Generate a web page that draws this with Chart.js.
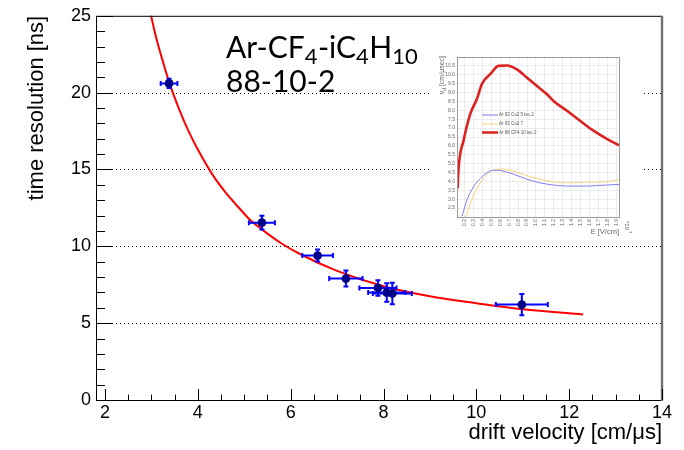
<!DOCTYPE html>
<html><head><meta charset="utf-8">
<script src="https://cdn.jsdelivr.net/npm/chart.js@4/dist/chart.umd.min.js"></script>
<style>
html,body{margin:0;padding:0;background:#fff;}
#wrap{position:relative;width:684px;height:450px;background:#fff;}
#main{position:absolute;left:0;top:0;}
#inset{position:absolute;left:432px;top:38px;background:#fff;}
</style></head><body>
<div id="wrap">
<canvas id="main" width="684" height="450"></canvas>
<canvas id="inset" width="212" height="206"></canvas>
</div>
<script>
// ---- main chart data ----
const driftVelocity      = [3.38, 5.38, 6.58, 7.19, 7.88, 8.07, 8.19, 10.98];
const driftVelocityErr   = [0.18, 0.28, 0.33, 0.36, 0.40, 0.40, 0.42, 0.56];
const timeResolution     = [20.6, 11.54, 9.40, 7.90, 7.29, 6.99, 6.93, 6.21];
const timeResolutionErr  = [0.30, 0.45, 0.39, 0.52, 0.51, 0.60, 0.70, 0.69];
const fitVelocity   = [2.90, 2.97, 3.10, 3.24, 3.38, 3.60, 3.80, 4.00, 4.33, 4.60, 4.80, 5.10, 5.38, 5.77, 6.20, 7.00, 8.00, 9.00, 10.0, 11.0, 12.3];
const fitResolution = [26.2, 25.3, 23.6, 22.1, 20.7, 18.9, 17.5, 16.3, 14.6, 13.5, 12.8, 11.8, 11.1, 10.25, 9.5, 8.4, 7.4, 6.75, 6.3, 5.9, 5.57];
const xTickValues = [2, 4, 6, 8, 10, 12, 14];
const yTickValues = [0, 5, 10, 15, 20, 25];
const gasLabel = ['Ar-CF', '4', '-iC', '4', 'H', '10'];
const mixLabel = '88-10-2';

// ---- inset data (E in kV/cm, vd in cm/us) ----
const insetFieldBlue = [0.171, 0.227, 0.30, 0.375, 0.45, 0.527, 0.617, 0.747, 0.896, 1.045, 1.193, 1.34, 1.566, 1.789, 1.93];
const insetVelBlue   = [2.03, 2.96, 3.70, 4.17, 4.48, 4.63, 4.60, 4.41, 4.13, 3.92, 3.80, 3.74, 3.74, 3.80, 3.83];
const insetFieldYellow = [0.208, 0.264, 0.338, 0.412, 0.487, 0.58, 0.673, 0.822, 1.008, 1.193, 1.38, 1.566, 1.789, 1.93];
const insetVelYellow   = [1.94, 2.77, 3.61, 4.17, 4.54, 4.69, 4.67, 4.45, 4.17, 3.98, 3.92, 3.96, 3.98, 4.11];
const insetFieldRed = [0.122, 0.131, 0.189, 0.264, 0.338, 0.394, 0.487, 0.58, 0.673, 0.785, 0.896, 1.008, 1.12, 1.193, 1.343, 1.49, 1.64, 1.789, 1.93];
const insetVelRed   = [3.61, 4.63, 6.31, 7.80, 8.64, 9.48, 10.03, 10.5, 10.52, 10.31, 9.85, 9.38, 8.92, 8.54, 7.99, 7.43, 6.87, 6.41, 6.03];
const insetXTicks = [0.2,0.3,0.4,0.5,0.6,0.7,0.8,0.9,1,1.1,1.2,1.3,1.4,1.5,1.6,1.7,1.8,1.9];
const insetYTicks = [2.5,3,3.5,4,4.5,5,5.5,6,6.5,7,7.5,8,8.5,9,9.5,10,10.5];
const insetLegend = ['Ar 93 Co2 5 iso 2', 'Ar 93 Co2 7', 'Ar 88 CF4 10 iso 2'];
const insetColors = ['#7f7ff2', '#f2d27a', '#dd2020'];

Chart.defaults.font.family = "'Liberation Sans', Arial, sans-serif";
Chart.defaults.color = '#000';

const pts = (xs, ys) => xs.map((v, i) => ({x: v, y: ys[i]}));

const mainDecor = {
  id: 'mainDecor',
  beforeDatasetsDraw(chart) {
    const {ctx, chartArea: a, scales: {y}} = chart;
    ctx.save();
    ctx.strokeStyle = '#000'; ctx.lineWidth = 1; ctx.setLineDash([1, 3]);
    yTickValues.filter(v => v > y.min && v < y.max).forEach(v => {
      const py = Math.round(y.getPixelForValue(v)) + 0.5;
      ctx.beginPath(); ctx.moveTo(a.left, py); ctx.lineTo(a.right, py); ctx.stroke();
    });
    ctx.restore();
  },
  afterDatasetDraw(chart, args) {
    if (args.index !== 0) return;
    const {ctx, scales: {x, y}} = chart;
    ctx.save();
    ctx.strokeStyle = '#0000ff'; ctx.lineWidth = 2;
    driftVelocity.forEach((v, i) => {
      const px = x.getPixelForValue(v), py = y.getPixelForValue(timeResolution[i]);
      const x1 = x.getPixelForValue(v - driftVelocityErr[i]), x2 = x.getPixelForValue(v + driftVelocityErr[i]);
      const y1 = y.getPixelForValue(timeResolution[i] - timeResolutionErr[i]), y2 = y.getPixelForValue(timeResolution[i] + timeResolutionErr[i]);
      ctx.beginPath();
      ctx.moveTo(x1, py); ctx.lineTo(x2, py);
      ctx.moveTo(px, y1); ctx.lineTo(px, y2);
      ctx.moveTo(x1, py - 2.5); ctx.lineTo(x1, py + 2.5);
      ctx.moveTo(x2, py - 2.5); ctx.lineTo(x2, py + 2.5);
      ctx.moveTo(px - 2.5, y1); ctx.lineTo(px + 2.5, y1);
      ctx.moveTo(px - 2.5, y2); ctx.lineTo(px + 2.5, y2);
      ctx.stroke();
    });
    ctx.restore();
  },
  afterDraw(chart) {
    const {ctx, chartArea: a, scales: {x, y}} = chart;
    ctx.save();
    // frame
    ctx.strokeStyle = '#000'; ctx.lineWidth = 1;
    ctx.beginPath();
    ctx.moveTo(a.left + 0.5, a.top + 0.5); ctx.lineTo(a.left + 0.5, a.bottom + 0.5);
    ctx.lineTo(a.right, a.bottom + 0.5);
    ctx.moveTo(a.left, a.top + 0.5); ctx.lineTo(a.right, a.top + 0.5);
    ctx.stroke();
    ctx.strokeStyle = '#707070'; ctx.lineWidth = 2.4;
    ctx.beginPath(); ctx.moveTo(a.right, a.top); ctx.lineTo(a.right, a.bottom + 1); ctx.stroke();
    // ticks
    ctx.strokeStyle = '#000'; ctx.lineWidth = 1;
    ctx.beginPath();
    for (let v = xTickValues[0]; v <= xTickValues[xTickValues.length - 1] + 1e-9; v += 0.5) {
      const px = Math.round(x.getPixelForValue(v)) + 0.5;
      const major = Math.abs(v - Math.round(v / 2) * 2) < 1e-6;
      const len = major ? 11 : 5.5;
      ctx.moveTo(px, a.bottom); ctx.lineTo(px, a.bottom - len);
    }
    for (let v = 0; v <= 25; v += 1) {
      const py = Math.round(y.getPixelForValue(v)) + 0.5;
      const len = v % 5 === 0 ? 17 : 9;
      ctx.moveTo(a.left, py); ctx.lineTo(a.left + len, py);
    }
    ctx.stroke();
    // annotation text
    ctx.fillStyle = '#000';
    ctx.textBaseline = 'alphabetic';
    let cx = 226;
    const big = "30px Lato", small = "22px Lato";
    gasLabel.forEach((t, i) => {
      const sub = i % 2 === 1;
      ctx.font = sub ? small : big;
      ctx.fillText(t, cx, sub ? 64 : 58);
      cx += ctx.measureText(t).width + (sub ? 0.5 : 0);
    });
    ctx.font = big;
    ctx.fillText(mixLabel, 226, 92);
    ctx.restore();
  }
};

new Chart(document.getElementById('main'), {
  type: 'scatter',
  data: {
    datasets: [
      { label: 'fit', type: 'line', data: pts(fitVelocity, fitResolution), borderColor: '#ff0000', borderWidth: 2,
        pointRadius: 0, cubicInterpolationMode: 'monotone', fill: false, order: 2 },
      { label: 'data', data: pts(driftVelocity, timeResolution), backgroundColor: '#000088', borderColor: '#000088',
        pointRadius: 4.4, borderWidth: 0, order: 1 }
    ]
  },
  options: {
    responsive: false, animation: false, devicePixelRatio: 1,
    layout: { padding: { left: 0, top: 15, right: 22, bottom: 0 } },
    plugins: { legend: { display: false }, tooltip: { enabled: false } },
    scales: {
      x: {
        type: 'linear', min: 1.806, max: 14,
        afterFit(s) { s.height = 50; },
        afterBuildTicks(s) { s.ticks = xTickValues.map(v => ({ value: v })); },
        grid: { display: false, drawTicks: false }, border: { display: false },
        ticks: { padding: 2, font: { size: 18 }, color: '#000', maxRotation: 0, autoSkip: false },
        title: { display: true, text: 'drift velocity [cm/μs]', align: 'end', color: '#000',
                 font: { size: 22 }, padding: { top: 0, bottom: 4 } }
      },
      y: {
        type: 'linear', min: 0, max: 25,
        afterFit(s) { s.width = 96; },
        afterBuildTicks(s) { s.ticks = yTickValues.map(v => ({ value: v })); },
        grid: { display: false, drawTicks: false }, border: { display: false },
        ticks: { padding: 5, font: { size: 18 }, color: '#000', autoSkip: false },
        title: { display: true, text: 'time resolution [ns]', align: 'end', color: '#000',
                 font: { size: 22 }, padding: { top: 24, bottom: 0 } }
      }
    }
  },
  plugins: [mainDecor]
});

// ---- inset ----
const insetDecor = {
  id: 'insetDecor',
  afterDraw(chart) {
    const {ctx, chartArea: a} = chart;
    ctx.save();
    ctx.strokeStyle = '#9a9a9a'; ctx.lineWidth = 1;
    ctx.strokeRect(Math.round(a.left) + 0.5, Math.round(a.top) + 0.5, Math.round(a.right - a.left), Math.round(a.bottom - a.top));
    // legend
    const ly = [77, 86, 94.5];
    insetLegend.forEach((t, i) => {
      ctx.strokeStyle = insetColors[i]; ctx.lineWidth = i === 2 ? 2.5 : 1;
      ctx.beginPath(); ctx.moveTo(50, ly[i]); ctx.lineTo(66, ly[i]); ctx.stroke();
      ctx.fillStyle = '#555'; ctx.font = '4.5px "Liberation Sans"'; ctx.textBaseline = 'middle';
      ctx.fillText(t, 67, ly[i]);
    });
    // y title
    ctx.save();
    ctx.translate(12, 18); ctx.rotate(-Math.PI / 2);
    ctx.fillStyle = '#666'; ctx.textBaseline = 'alphabetic'; ctx.textAlign = 'right';
    ctx.font = '7px "Liberation Sans"';
    ctx.fillText(' [cm/μsec]', 0, 0);
    const w1 = ctx.measureText(' [cm/μsec]').width;
    ctx.font = '5px "Liberation Sans"';
    ctx.fillText('d', -w1, 2);
    const w2 = ctx.measureText('d').width;
    ctx.font = '7px "Liberation Sans"';
    ctx.fillText('v', -w1 - w2, 0);
    ctx.restore();
    // x title
    ctx.fillStyle = '#666'; ctx.font = '7.5px "Liberation Sans"'; ctx.textAlign = 'right'; ctx.textBaseline = 'middle';
    ctx.fillText('E [V/cm]', a.right, 194);
    ctx.save();
    ctx.translate(195, 183); ctx.rotate(Math.PI / 2);
    ctx.textAlign = 'left'; ctx.font = '6px "Liberation Sans"';
    ctx.fillText('*10', 0, 0);
    ctx.font = '4px "Liberation Sans"';
    ctx.fillText('3', 10, -3);
    ctx.restore();
    ctx.restore();
  }
};

new Chart(document.getElementById('inset'), {
  type: 'scatter',
  data: {
    datasets: [
      { data: pts(insetFieldBlue, insetVelBlue), showLine: true, borderColor: insetColors[0], borderWidth: 1, pointRadius: 0, cubicInterpolationMode: 'monotone' },
      { data: pts(insetFieldYellow, insetVelYellow), showLine: true, borderColor: insetColors[1], borderWidth: 1, pointRadius: 0, cubicInterpolationMode: 'monotone' },
      { data: pts(insetFieldRed, insetVelRed), showLine: true, borderColor: insetColors[2], borderWidth: 2.6, pointRadius: 0, cubicInterpolationMode: 'monotone' }
    ]
  },
  options: {
    responsive: false, animation: false, devicePixelRatio: 1,
    layout: { padding: { left: 0, top: 19, right: 25, bottom: 0 } },
    plugins: { legend: { display: false }, tooltip: { enabled: false } },
    scales: {
      x: {
        type: 'linear', min: 0.115, max: 1.93,
        afterFit(s) { s.height = 27; },
        afterBuildTicks(s) { s.ticks = insetXTicks.map(v => ({ value: v })); },
        grid: { color: '#ececec', drawTicks: false }, border: { display: false },
        ticks: { padding: 2, font: { size: 5 }, color: '#666', minRotation: 90, maxRotation: 90, autoSkip: false }
      },
      y: {
        type: 'linear', min: 2, max: 11,
        afterFit(s) { s.width = 25; },
        afterBuildTicks(s) { s.ticks = insetYTicks.map(v => ({ value: v })); },
        grid: { color: '#ececec', drawTicks: false }, border: { display: false },
        ticks: { padding: 2, font: { size: 5 }, color: '#666', autoSkip: false }
      }
    }
  },
  plugins: [insetDecor]
});
</script>
</body></html>
